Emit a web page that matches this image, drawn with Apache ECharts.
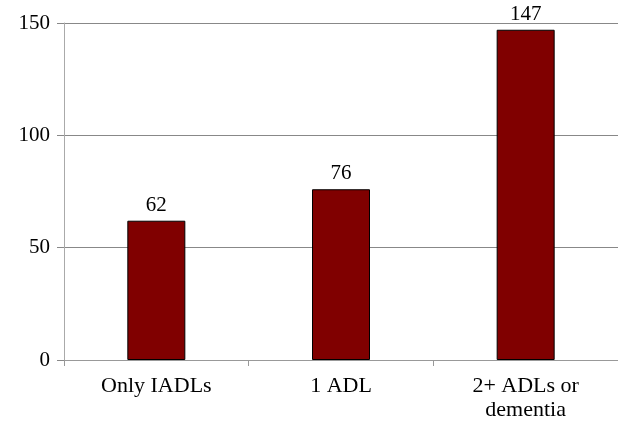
<!DOCTYPE html>
<html><head><meta charset="utf-8">
<script src="https://cdn.jsdelivr.net/npm/echarts@6/dist/echarts.min.js"></script>
<style>html,body{margin:0;padding:0;background:#fff}#c{width:618px;height:423px}</style>
</head><body><div id="c"></div>
<script>
const categories = ['Only IADLs', '1 ADL', '2+ ADLs or\ndementia'];
const values = [62, 76, 147];
const yTicks = [0, 50, 100, 150];
const font = "'Liberation Serif', 'Times New Roman', 'DejaVu Serif', serif";
const chart = echarts.init(document.getElementById('c'));
chart.setOption({
  animation: false,
  textStyle: {fontFamily: font},
  grid: {left: 64, right: 0, top: 23, bottom: 63, outerBoundsMode: 'none', containLabel: false},
  xAxis: {
    type: 'category', data: categories,
    axisLine: {lineStyle: {color: '#999', width: 1}},
    axisTick: {show: true, length: 6, lineStyle: {color: '#999'}},
    axisLabel: {fontFamily: font, fontSize: 22, color: '#000', margin: 14, lineHeight: 24}
  },
  yAxis: {
    type: 'value', min: yTicks[0], max: yTicks[yTicks.length-1], interval: 50,
    axisLine: {show: true, lineStyle: {color: '#aaa'}},
    axisTick: {show: true, length: 7, lineStyle: {color: '#888'}},
    splitLine: {show: true, lineStyle: {color: '#888', width: 1}},
    axisLabel: {fontFamily: font, fontSize: 21, color: '#000', margin: 14}
  },
  series: [{
    type: 'bar', data: values, barWidth: 58,
    itemStyle: {color: '#800000', borderColor: '#000', borderWidth: 1},
    label: {show: true, position: 'top', fontFamily: font, fontSize: 21, color: '#000', distance: 5}
  }]
});
</script></body></html>
